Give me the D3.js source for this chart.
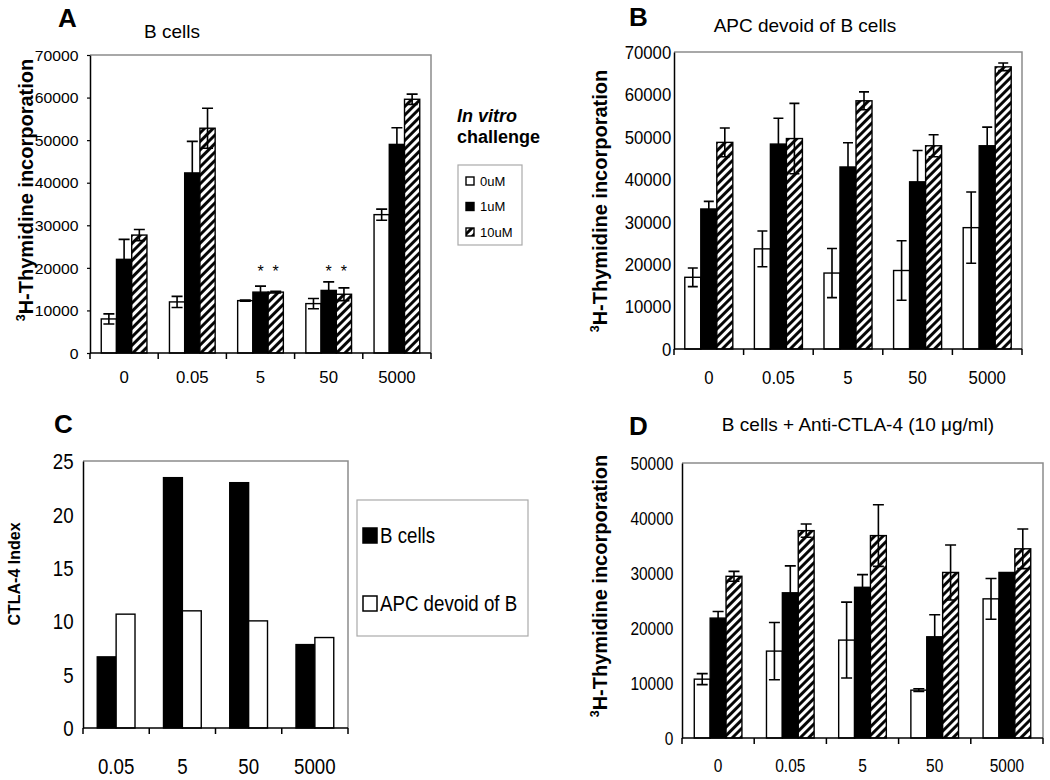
<!DOCTYPE html>
<html><head><meta charset="utf-8">
<script src="https://cdn.jsdelivr.net/npm/d3@7"></script>
<style>
body{margin:0;background:#fff}
svg{display:block}
text{font-family:"Liberation Sans",Arial,Helvetica,sans-serif;fill:#000}
</style>
</head><body>
<svg id="fig" width="1050" height="780"></svg>
<script>
// ---------------- DATA ----------------
const doseCats = ["0", "0.05", "5", "50", "5000"];
const challengeNames = ["0uM", "1uM", "10uM"];
const ticks70k = [0, 10000, 20000, 30000, 40000, 50000, 60000, 70000];
const ticks50k = [0, 10000, 20000, 30000, 40000, 50000];
const ticksIndex = [0, 5, 10, 15, 20, 25];

// Panel A: B cells
const bcells0uM     = [8000, 12000, 12300, 11600, 32500];
const bcells0uMErr  = [1200, 1300, 150, 1200, 1300];
const bcells1uM     = [22000, 42300, 14300, 14700, 49000];
const bcells1uMErr  = [4700, 7400, 1400, 2000, 3900];
const bcells10uM    = [27700, 52800, 14300, 13800, 59600];
const bcells10uMErr = [1300, 4700, 200, 1500, 1200];
const starCats = ["5", "50"];
const starSeries = [1, 2];
const starLevel = 17800;

// Panel B: APC devoid of B cells
const apc0uM     = [16900, 23600, 17900, 18500, 28600];
const apc0uMErr  = [2200, 4200, 5800, 7000, 8400];
const apc1uM     = [33000, 48300, 42900, 39400, 47900];
const apc1uMErr  = [1800, 6100, 5700, 7400, 4400];
const apc10uM    = [48700, 49600, 58500, 47900, 66500];
const apc10uMErr = [3400, 8300, 2100, 2600, 900];

// Panel C: CTLA-4 index
const ctlaCats = ["0.05", "5", "50", "5000"];
const ctlaSeriesNames = ["B cells", "APC devoid of B"];
const ctlaBcells = [6.66, 23.44, 22.97, 7.81];
const ctlaAPC    = [10.66, 10.97, 10.03, 8.47];

// Panel D: B cells + anti-CTLA-4
const anti0uM     = [10700, 15800, 17800, 8700, 25300];
const anti0uMErr  = [1000, 5200, 6900, 250, 3700];
const anti1uM     = [21800, 26400, 27400, 18400, 30100];
const anti1uMErr  = [1200, 4900, 2300, 4000, 0];
const anti10uM    = [29400, 37700, 36800, 30100, 34400];
const anti10uMErr = [900, 1200, 5600, 5000, 3600];

// ---------------- DRAWING ----------------
const svg = d3.select("#fig");
const defs = svg.append("defs");
const pat = defs.append("pattern").attr("id", "hatch").attr("patternUnits", "userSpaceOnUse")
  .attr("width", 6).attr("height", 6).attr("patternTransform", "rotate(45)");
pat.append("rect").attr("width", 6).attr("height", 6).attr("fill", "#fff");
pat.append("line").attr("x1", 1.5).attr("y1", 0).attr("x2", 1.5).attr("y2", 6)
  .attr("stroke", "#000").attr("stroke-width", 2.9);

const FILLS = ["#fff", "#000", "url(#hatch)"];

function drawPanel(o) {
  const g = svg.append("g");
  const x = d3.scaleBand().domain(o.cats).range([o.x0, o.x1])
    .paddingInner(o.pad).paddingOuter(o.pad / 2);
  const xs = d3.scaleBand().domain(d3.range(o.series.length)).range([0, x.bandwidth()]);
  const y = d3.scaleLinear().domain([0, o.yMax]).range([o.yB, o.yT]);

  // frame (top & right)
  g.append("path").attr("d", `M${o.x0},${o.yT}H${o.x1}V${o.yB}`)
    .attr("fill", "none").attr("stroke", "#8c8c8c").attr("stroke-width", 1.5);

  // bars
  o.series.forEach((s, si) => {
    g.append("g").selectAll("rect").data(s.values).join("rect")
      .attr("x", (d, i) => x(o.cats[i]) + xs(si))
      .attr("y", d => y(d))
      .attr("width", xs.bandwidth())
      .attr("height", d => y(0) - y(d))
      .attr("fill", s.fill).attr("stroke", "#000").attr("stroke-width", 1.4);
  });

  // error bars
  o.series.forEach((s, si) => {
    if (!s.errs) return;
    const eg = g.append("g").attr("stroke", "#000").attr("stroke-width", 1.6).attr("fill", "none");
    s.values.forEach((v, i) => {
      const e = s.errs[i];
      if (!e) return;
      const cx = x(o.cats[i]) + xs(si) + xs.bandwidth() / 2;
      const y1 = y(v + e), y2 = y(v - e), hw = o.cap / 2;
      eg.append("path").attr("d",
        `M${cx},${y1}V${y2}M${cx - hw},${y1}H${cx + hw}M${cx - hw},${y2}H${cx + hw}`);
    });
  });

  // y axis
  const ya = d3.axisLeft(y).tickValues(o.yTicks).tickFormat(d3.format("d"))
    .tickSizeInner(o.ytick).tickSizeOuter(0).tickPadding(o.ypad);
  const yg = g.append("g").attr("transform", `translate(${o.x0},0)`).call(ya);
  yg.select(".domain").attr("stroke", "#000").attr("stroke-width", 1.5);
  yg.selectAll(".tick line").attr("stroke-width", 1.2);
  yg.selectAll("text").attr("font-size", o.yfs).attr("dy", "0.35em")
    .attr("transform", `scale(${o.sx},1)`);

  // x axis baseline + boundary ticks
  g.append("line").attr("x1", o.x0).attr("x2", o.x1).attr("y1", o.yB).attr("y2", o.yB)
    .attr("stroke", "#000").attr("stroke-width", 1.6);
  g.append("g").selectAll("line").data(d3.range(o.cats.length + 1)).join("line")
    .attr("x1", i => o.x0 + i * x.step()).attr("x2", i => o.x0 + i * x.step())
    .attr("y1", o.yB).attr("y2", o.yB + 6).attr("stroke", "#000").attr("stroke-width", 1.5);
  const xa = d3.axisBottom(x).tickSize(0).tickPadding(o.xpad);
  const xg = g.append("g").attr("transform", `translate(0,${o.yB})`).call(xa);
  xg.select(".domain").remove();
  xg.selectAll("text").attr("font-size", o.xfs).attr("transform", `scale(${o.sx},1)`);

  // panel letter, title, y label
  g.append("text").attr("x", o.letter[0]).attr("y", o.letter[1]).attr("font-size", 26)
    .attr("font-weight", "bold").text(o.letter[2]);
  if (o.title) {
    g.append("text").attr("x", o.title[0]).attr("y", o.title[1]).attr("font-size", o.title[3])
      .attr("text-anchor", "middle").text(o.title[2]);
  }
  const yl = g.append("text").attr("transform", `translate(${o.ylab[0]},${o.ylab[1]}) rotate(-90)`)
    .attr("text-anchor", "middle").attr("font-weight", "bold").attr("font-size", o.ylab[2]);
  if (o.ylab[3]) {
    yl.append("tspan").attr("font-size", o.ylab[2] * 0.62).attr("dy", -o.ylab[2] * 0.38).text("3");
    yl.append("tspan").attr("dy", o.ylab[2] * 0.38).text("H-Thymidine incorporation");
  } else {
    yl.text("CTLA-4 Index");
  }
  return { g, x, xs, y };
}

function doseSeries(vals) {
  return vals.map((v, i) => ({ values: v[0], errs: v[1], fill: FILLS[i] }));
}

// Panel A
const pA = drawPanel({
  cats: doseCats, x0: 90, x1: 431, yT: 55, yB: 353, yMax: 70000, yTicks: ticks70k,
  pad: 0.33, cap: 11, ytick: 3, ypad: 8, yfs: 15, xfs: 16, xpad: 19, sx: 1.05,
  series: doseSeries([[bcells0uM, bcells0uMErr], [bcells1uM, bcells1uMErr], [bcells10uM, bcells10uMErr]]),
  letter: [58, 27, "A"], title: [172, 38, "B cells", 19], ylab: [33, 190, 20, true]
});
// stars
starCats.forEach(c => starSeries.forEach(si => {
  pA.g.append("text").attr("x", pA.x(c) + pA.xs(si) + pA.xs.bandwidth() / 2)
    .attr("y", pA.y(starLevel)).attr("text-anchor", "middle").attr("font-size", 16).text("*");
}));
// legend A
const lgA = svg.append("g");
lgA.append("text").attr("x", 457).attr("y", 122).attr("font-size", 18).attr("font-weight", "bold")
  .attr("font-style", "italic").text("In vitro");
lgA.append("text").attr("x", 457).attr("y", 143).attr("font-size", 18).attr("font-weight", "bold")
  .text("challenge");
lgA.append("rect").attr("x", 458).attr("y", 165).attr("width", 64).attr("height", 80)
  .attr("fill", "none").attr("stroke", "#aaa").attr("stroke-width", 1.2);
const lgRows = lgA.selectAll("g.row").data(challengeNames).join("g").attr("class", "row")
  .attr("transform", (d, i) => `translate(466,${181 + i * 25.5})`);
lgRows.append("rect").attr("x", 0).attr("y", -4).attr("width", 8).attr("height", 8)
  .attr("fill", (d, i) => FILLS[i]).attr("stroke", "#000").attr("stroke-width", 1.4);
lgRows.append("text").attr("x", 14).attr("dy", "0.36em").attr("font-size", 13).text(d => d);

// Panel B
drawPanel({
  cats: doseCats, x0: 674, x1: 1022, yT: 52, yB: 349, yMax: 70000, yTicks: ticks70k,
  pad: 0.31, cap: 10, ytick: 0, ypad: 3, yfs: 18, xfs: 18, xpad: 22, sx: 0.93,
  series: doseSeries([[apc0uM, apc0uMErr], [apc1uM, apc1uMErr], [apc10uM, apc10uMErr]]),
  letter: [629, 26, "B"], title: [805, 32, "APC devoid of B cells", 19], ylab: [607, 201, 20, true]
});

// Panel C
drawPanel({
  cats: ctlaCats, x0: 83, x1: 348, yT: 461, yB: 728, yMax: 25, yTicks: ticksIndex,
  pad: 0.43, cap: 0, ytick: 0, ypad: 11, yfs: 22, xfs: 22, xpad: 30, sx: 0.85,
  series: [{ values: ctlaBcells, fill: "#000" }, { values: ctlaAPC, fill: "#fff" }],
  letter: [54, 433, "C"], title: null, ylab: [20, 574, 16, false]
});
// legend C
const lgC = svg.append("g");
lgC.append("rect").attr("x", 357).attr("y", 500).attr("width", 171).attr("height", 136)
  .attr("fill", "none").attr("stroke", "#aaa").attr("stroke-width", 1.2);
const lcRows = lgC.selectAll("g.row").data(ctlaSeriesNames).join("g").attr("class", "row")
  .attr("transform", (d, i) => `translate(362,${535 + i * 68})`);
lcRows.append("rect").attr("x", 1).attr("y", -7).attr("width", 14).attr("height", 15)
  .attr("fill", (d, i) => i === 0 ? "#000" : "#fff").attr("stroke", "#000").attr("stroke-width", 1.5);
lcRows.append("text").attr("transform", "translate(18,8) scale(0.85,1)")
  .attr("font-size", 22).text(d => d);

// Panel D
drawPanel({
  cats: doseCats, x0: 682, x1: 1043, yT: 463, yB: 738, yMax: 50000, yTicks: ticks50k,
  pad: 0.34, cap: 11, ytick: 0, ypad: 10, yfs: 18, xfs: 18, xpad: 21, sx: 0.86,
  series: doseSeries([[anti0uM, anti0uMErr], [anti1uM, anti1uMErr], [anti10uM, anti10uMErr]]),
  letter: [629, 435, "D"], title: [858, 431, "B cells + Anti-CTLA-4 (10 \u03BCg/ml)", 19],
  ylab: [607, 586, 20, true]
});
</script>
</body></html>
